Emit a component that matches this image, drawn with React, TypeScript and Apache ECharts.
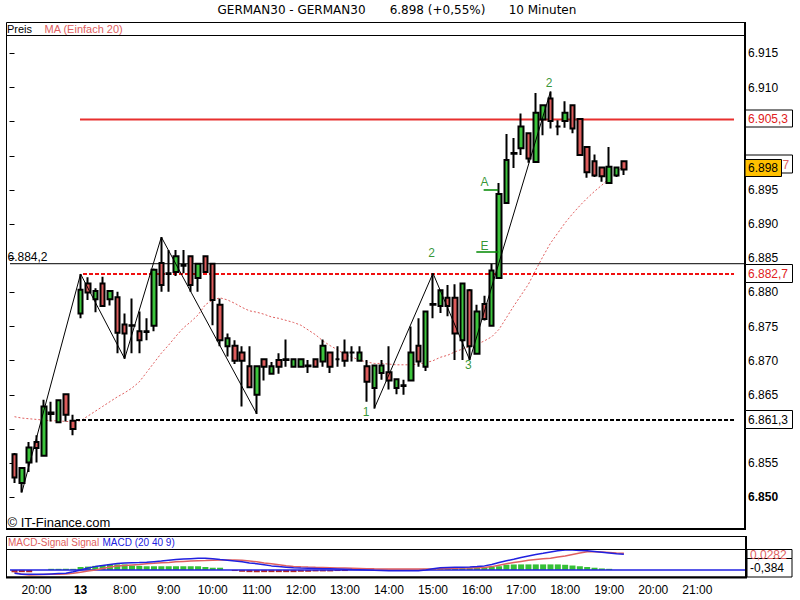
import React, { useEffect, useRef } from "react";
import * as echarts from "echarts";

const F = "'Liberation Sans', Arial, sans-serif";
const FT = "'DejaVu Sans', sans-serif";

// 10-minute candles (slot index 0 = first candle on the left)
const opens = [6856.3,6852.1,6855.1,6858.1,6856.1,6862.4,6861.0,6865.1,6861.2,6876.9,
6881.3,6879.0,6881.3,6879.0,6879.3,6875.3,6875.1,6874.3,6874.2,6875.1,
6884.3,6882.8,6883.0,6884.0,6885.3,6882.1,6885.3,6884.2,6878.2,6872.1,
6872.2,6871.2,6869.2,6865.0,6870.2,6868.1,6870.1,6870.2,6869.1,6869.1,
6869.2,6870.2,6869.9,6871.2,6870.2,6871.2,6871.2,6870.0,6869.2,6866.0,
6868.2,6868.3,6866.0,6866.3,6867.1,6872.2,6869.1,6878.2,6878.0,6879.2,
6879.2,6873.0,6880.3,6871.0,6878.3,6875.1,6882.1,6893.1,6900.3,6901.1,
6903.3,6899.1,6905.3,6908.4,6904.3,6905.1,6907.4,6905.4,6901.3,6899.2,
6898.3,6896.0,6897.1,6899.2];
const closes = [6852.9,6854.3,6857.3,6857.2,6863.3,6862.2,6864.2,6862.1,6860.0,6880.4,
6880.0,6880.2,6878.0,6880.2,6874.1,6874.0,6875.2,6873.0,6874.3,6883.3,
6881.1,6882.7,6885.3,6883.9,6881.1,6884.2,6883.0,6878.9,6873.0,6873.3,
6870.0,6870.0,6866.1,6869.2,6869.1,6869.2,6869.1,6870.1,6870.2,6870.2,
6869.3,6869.1,6872.2,6869.1,6870.2,6870.0,6871.2,6871.2,6866.9,6869.3,
6869.3,6867.1,6867.3,6866.4,6871.2,6869.9,6877.2,6878.3,6880.3,6878.0,
6874.0,6881.3,6872.1,6877.2,6876.1,6883.2,6894.4,6899.4,6900.4,6904.3,
6899.6,6906.3,6907.4,6905.1,6904.3,6906.3,6904.0,6900.1,6897.6,6897.1,
6897.0,6898.4,6898.3,6898.0];
const lows = [6852.1,6850.7,6853.7,6855.1,6856.0,6861.1,6860.9,6861.1,6859.1,6876.2,
6878.9,6877.1,6878.0,6878.1,6871.1,6870.3,6871.1,6871.1,6873.0,6874.3,
6880.1,6880.1,6882.4,6882.8,6880.1,6880.1,6882.9,6875.2,6872.1,6870.6,
6869.5,6863.3,6866.0,6862.2,6867.1,6868.0,6868.1,6869.1,6869.1,6869.1,
6868.2,6869.1,6869.1,6868.2,6869.1,6869.1,6869.9,6870.0,6864.0,6863.0,
6867.2,6865.8,6865.1,6865.0,6867.0,6869.1,6868.5,6876.2,6877.0,6876.5,
6870.1,6870.1,6870.1,6870.9,6875.9,6875.0,6882.0,6893.0,6898.2,6900.1,
6899.0,6899.0,6903.0,6904.0,6903.0,6904.1,6903.3,6900.0,6896.8,6896.9,
6896.2,6896.0,6896.9,6897.2];
const highs = [6856.5,6854.4,6858.1,6859.1,6864.3,6864.0,6864.3,6865.2,6862.1,6882.7,
6882.2,6880.6,6882.3,6880.3,6880.1,6876.9,6879.1,6877.2,6876.2,6883.5,
6888.1,6886.2,6886.2,6886.2,6885.4,6884.3,6885.4,6884.3,6879.1,6874.0,
6873.0,6872.1,6872.1,6869.3,6870.3,6869.8,6871.1,6873.1,6870.3,6870.3,
6870.1,6870.3,6873.1,6871.3,6872.1,6873.1,6872.1,6872.1,6870.1,6869.4,
6870.1,6872.1,6867.4,6867.2,6875.0,6876.2,6877.3,6882.8,6880.4,6881.1,
6881.2,6881.4,6880.5,6878.2,6879.5,6884.2,6896.0,6903.2,6902.6,6906.2,
6903.4,6909.2,6907.5,6909.4,6905.2,6908.0,6907.5,6905.5,6901.4,6900.2,
6898.4,6901.3,6898.4,6899.3];

// MA (Einfach 20)
const maValues = [6861.8,6861.6,6861.5,6861.4,6861.3,6861.2,6861.2,6861.1,6861.1,6861.2,
6861.9,6862.6,6863.3,6864.0,6864.7,6865.3,6866.0,6866.9,6868.3,6869.7,
6871.1,6872.3,6873.6,6874.8,6875.7,6876.7,6878.2,6878.9,6879.2,6878.9,
6878.4,6877.8,6877.3,6877.1,6876.8,6876.4,6876.2,6875.9,6875.6,6875.2,
6874.5,6873.8,6872.9,6872.2,6871.6,6870.9,6870.5,6870.1,6869.8,6869.6,
6869.6,6869.5,6869.4,6869.4,6869.4,6869.5,6869.7,6870.0,6870.5,6870.8,
6871.3,6871.7,6872.1,6872.4,6872.9,6873.5,6874.6,6876.3,6878.0,6879.6,
6881.2,6883.3,6885.3,6887.2,6888.7,6890.2,6891.5,6892.7,6893.8,6894.8,
6895.7,6896.7,6897.6,6898.6];

// MACD (20 40 9)
const macdValues = [-0.9,-1.2,-1.2,-1.2,-1.2,-1.1,-1.0,-0.9,-0.5,0.0,
0.5,0.9,1.2,1.5,1.75,1.85,1.95,2.0,2.1,2.25,
2.4,2.6,2.8,2.95,3.05,3.15,3.15,3.05,2.8,2.6,
2.4,2.2,1.9,1.7,1.4,1.1,0.9,0.75,0.6,0.5,
0.45,0.4,0.35,0.3,0.25,0.2,0.1,0.05,0.0,-0.1,
-0.15,-0.2,-0.2,-0.2,-0.2,-0.2,0.0,0.3,0.6,0.65,
0.7,0.75,0.8,0.9,1.1,1.5,2.0,2.5,2.9,3.4,
3.8,4.2,4.5,4.85,5.2,5.4,5.4,5.3,5.2,5.0,
4.8,4.6,4.4,4.25];
const signalValues = [-0.6,-1.2,-1.35,-1.3,-1.25,-1.2,-1.15,-1.1,-0.9,-0.6,
-0.3,0.0,0.4,0.8,1.05,1.2,1.35,1.5,1.7,1.82,
1.95,2.05,2.2,2.3,2.4,2.5,2.55,2.62,2.68,2.71,
2.7,2.6,2.4,2.2,1.9,1.65,1.4,1.15,0.95,0.85,
0.78,0.72,0.67,0.62,0.55,0.5,0.45,0.4,0.35,0.3,
0.27,0.25,0.25,0.25,0.25,0.25,0.27,0.3,0.35,0.4,
0.45,0.5,0.55,0.6,0.65,0.9,1.3,1.7,2.0,2.3,
2.6,2.85,3.05,3.2,3.5,3.8,4.2,4.6,4.95,4.95,
4.85,4.75,4.6,4.5];
const histValues = [-0.6,-0.6,-0.6,0,0,0.3,0.3,0.3,0.3,0.8,
0.9,1.1,1.3,1.5,1.5,1.5,1.2,1.1,1.0,1.0,
1.0,1.0,1.0,1.0,1.0,1.0,0.8,0.6,0.6,0,
-0.3,-0.5,-0.6,-0.6,-0.6,-0.6,-0.6,-0.6,-0.6,-0.5,
-0.5,-0.4,-0.4,-0.4,-0.3,-0.3,0,0,0,0,
0,0,0,0,0,0,0.3,0.3,0.4,0.5,
0.5,0.5,0.5,0.6,0.7,0.8,1.0,1.4,1.5,1.5,
1.5,1.5,1.5,1.5,1.5,1.4,1.2,1.0,0.8,0.6,
0.4,0.3,0,0];

// axes
const slotCount = 100;
const yTicks = [6850,6855,6860,6865,6870,6875,6880,6885,6890,6895,6900,6905,6910,6915];
// labels at 6.860, 6.900 and 6.905 sit under the value boxes in the reference
const yLabels = [6850,6855,6865,6870,6875,6880,6885,6890,6895,6910,6915];
const xTickIdx = [3,9,15,21,27,33,39,45,51,57,63,69,75,81,87,93];
const xTickText = ["20:00","13","8:00","9:00","10:00","11:00","12:00","13:00","14:00","15:00","16:00","17:00","18:00","19:00","20:00","21:00"];

// drawn annotations (slot index, price)
const waveA = [[1,6850.7],[9,6882.7],[15,6870.3],[20,6888.1],[33,6862.2]];
const waveB = [[49,6863.0],[57,6882.8],[62,6870.1],[73,6909.4]];
const waveLabels = [
  { t: "1", i: 47.9, v: 6862.5 },
  { t: "2", i: 56.8, v: 6885.7 },
  { t: "3", i: 61.8, v: 6869.4 },
  { t: "2", i: 72.8, v: 6910.7 },
  { t: "A", i: 64.0, v: 6896.2 },
  { t: "E", i: 64.0, v: 6886.8 },
];
const markA = [[63.9,6895.0],[65.9,6895.0]];
const markE = [[62.9,6885.9],[65.9,6885.9]];
const levelRed = 6905.3;
const levelBlack = 6884.2;
const levelRedDash = 6882.7;
const levelBlackDash = 6861.3;

export default function App() {
  const ref = useRef<HTMLDivElement>(null);
  useEffect(() => {
    const chart = echarts.init(ref.current!, null, { renderer: "svg" });
    const cats = Array.from({ length: slotCount }, (_, i) => "s" + i);
    const candles = opens.map((o, i) => [o, closes[i], lows[i], highs[i]]);
    const lvl = (v: number, x0: number, x1: number, color: string, width: number, type: any) => ({
      type: "line", xAxisIndex: 1, yAxisIndex: 0, data: [[x0, v], [x1, v]], clip: false,
      symbol: "none", silent: true, z: 3,
      lineStyle: { color, width, type },
    });
    const txt = (text: string, x: number, y: number, fill: string, size = 12, extra: any = {}) => ({
      type: "text", z: 100, x, y,
      style: { text, fill, font: `${extra.weight || "normal"} ${size}px ${extra.family || F}`, textAlign: extra.align || "left", textVerticalAlign: "middle" },
    });
    const box = (x: number, y: number, w: number, h: number, fill = "#fff") => ({
      type: "rect", z: 99, shape: { x, y, width: w, height: h },
      style: { fill, stroke: "#000", lineWidth: 1 },
    });
    const line = (x1: number, y1: number, x2: number, y2: number, w = 1) => ({
      type: "line", z: 50, shape: { x1, y1, x2, y2 }, style: { stroke: "#000", lineWidth: w },
    });

    const option: any = {
      animation: false,
      backgroundColor: "#fff",
      grid: [
        { left: 10.83, width: 734.2, top: 19.2, height: 512.25 },
        { left: 10.83, width: 734.2, top: 549.3, height: 28 },
      ],
      xAxis: [
        { type: "category", gridIndex: 0, data: cats, show: false, boundaryGap: true },
        { type: "value", gridIndex: 0, min: -0.5, max: slotCount - 0.5, show: false },
        {
          type: "category", gridIndex: 1, data: cats, boundaryGap: true,
          axisLine: { show: false }, axisTick: { show: false }, splitLine: { show: false },
          axisLabel: {
            show: true, margin: 7, color: "#000", fontFamily: F, fontSize: 12,
            interval: (index: number) => xTickIdx.includes(index),
            formatter: (_v: string, index: number) => {
              const k = xTickIdx.indexOf(index);
              if (k < 0) return "";
              return xTickText[k] === "13" ? "{b|13}" : xTickText[k];
            },
            rich: { b: { fontWeight: "bold", fontFamily: F, fontSize: 12, color: "#000" } },
          },
        },
        { type: "value", gridIndex: 1, min: -0.5, max: slotCount - 0.5, show: false },
      ],
      yAxis: [
        {
          type: "value", gridIndex: 0, min: 6845, max: 6920, interval: 5, position: "right",
          axisLine: { show: false }, splitLine: { show: false },
          axisTick: { show: true, inside: true, length: 5, lineStyle: { color: "#000", width: 1 }, customValues: yTicks },
          axisLabel: {
            show: true, margin: 3, color: "#000", fontFamily: F, fontSize: 12, customValues: yLabels,
            formatter: (v: number) => {
              if (!yLabels.includes(Math.round(v))) return "";
              const s = (v / 1000).toFixed(3);
              return Math.round(v) === 6850 ? "{b|" + s + "}" : s;
            },
            rich: { b: { fontWeight: "bold", fontFamily: F, fontSize: 12, color: "#000" } },
          },
        },
        { type: "value", gridIndex: 1, min: -2, max: 5.6, show: false },
      ],
      series: [
        {
          type: "line", xAxisIndex: 0, yAxisIndex: 0, data: maValues, symbol: "none", z: 1,
          lineStyle: { color: "#e06060", width: 1, type: [2, 2] },
        },
        lvl(levelBlack, -1.18, slotCount - 0.5, "#000", 1, "solid"),
        lvl(levelRed, 8.92, 98.0, "#e8302e", 2, "solid"),
        lvl(levelRedDash, 9.33, 98.0, "#f01010", 2, [4, 2]),
        lvl(levelBlackDash, 8.38, 98.0, "#000", 2, [4, 2]),
        {
          type: "candlestick", xAxisIndex: 0, yAxisIndex: 0, data: candles, barWidth: 5, z: 4,
          itemStyle: {
            color: "#3cc43c", color0: "#dd5c5c", borderColor: "#000", borderColor0: "#000",
            borderColorDoji: "#000", borderWidth: 2,
          },
        },
        {
          type: "line", xAxisIndex: 1, yAxisIndex: 0, data: waveA, symbol: "none", z: 5,
          lineStyle: { color: "#000", width: 1 },
        },
        {
          type: "line", xAxisIndex: 1, yAxisIndex: 0, data: waveB, symbol: "none", z: 5,
          lineStyle: { color: "#000", width: 1 },
        },
        {
          type: "line", xAxisIndex: 1, yAxisIndex: 0, data: markA, symbol: "none", z: 5,
          lineStyle: { color: "#008800", width: 1.5 },
        },
        {
          type: "line", xAxisIndex: 1, yAxisIndex: 0, data: markE, symbol: "none", z: 5,
          lineStyle: { color: "#008800", width: 1.5 },
        },
        {
          type: "scatter", xAxisIndex: 1, yAxisIndex: 0, symbolSize: 1, z: 6,
          itemStyle: { color: "rgba(0,0,0,0)" },
          data: waveLabels.map((w) => ({ name: w.t, value: [w.i, w.v] })),
          label: {
            show: true, position: "inside", formatter: (p: any) => p.name,
            color: "#007a00", fontFamily: F, fontSize: 12,
          },
        },
        {
          type: "bar", xAxisIndex: 2, yAxisIndex: 1, data: histValues, barWidth: 6, z: 2,
          itemStyle: { color: (p: any) => (p.value >= 0 ? "#36c036" : "#b02525") },
        },
        {
          type: "line", xAxisIndex: 3, yAxisIndex: 1, data: [[-1.18, 0], [slotCount - 0.5, 0]],
          clip: false, symbol: "none", z: 3, lineStyle: { color: "#2020e0", width: 1.5 },
        },
        {
          type: "line", xAxisIndex: 2, yAxisIndex: 1, data: signalValues, symbol: "none", z: 4,
          lineStyle: { color: "#e06060", width: 1.5 },
        },
        {
          type: "line", xAxisIndex: 2, yAxisIndex: 1, data: macdValues, symbol: "none", z: 5,
          lineStyle: { color: "#2020e0", width: 1.5 },
        },
      ],
      graphic: [
        // title
        txt("GERMAN30 - GERMAN30", 291.5, 10, "#000", 12, { align: "center", family: FT }),
        txt("6.898 (+0,55%)", 437.5, 10, "#000", 12, { align: "center", family: FT }),
        txt("10 Minuten", 542.5, 10, "#000", 12, { align: "center", family: FT }),
        // main frame
        { type: "rect", z: 50, shape: { x: 6.5, y: 22.5, width: 738.5, height: 506 }, style: { fill: "none", stroke: "#000", lineWidth: 1 } },
        line(6, 35.5, 745, 35.5),
        line(745, 22, 745, 530, 2),
        line(6, 529, 746, 529, 2),
        txt("Preis", 7, 29, "#000", 11),
        txt("MA (Einfach 20)", 44.5, 29, "#e06060", 11),
        txt("6.884,2", 7.5, 256.5, "#000", 12),
        txt("© IT-Finance.com", 7.5, 522.5, "#000", 13),
        // MACD frame
        { type: "rect", z: 50, shape: { x: 6.5, y: 536.5, width: 739.5, height: 40.5 }, style: { fill: "none", stroke: "#000", lineWidth: 1 } },
        line(6, 549.5, 746, 549.5),
        line(746, 536, 746, 578, 2),
        line(6, 577.5, 747, 577.5, 2),
        txt("MACD-Signal Signal", 8, 542.5, "#e06060", 10),
        txt("MACD (20 40 9)", 102.5, 542.5, "#2020e0", 10),
        // right value boxes
        box(745.5, 110, 47, 17), txt("6.905,3", 748, 118.5, "#e02020", 12),
        box(745.5, 155, 47, 18), txt("7", 782.5, 164.5, "#e06060", 12),
        box(745, 159.5, 36.5, 17, "#ffc000"), txt("6.898", 748, 168.2, "#000", 12),
        box(745.5, 264.5, 47, 18), txt("6.882,7", 748, 273.5, "#e02020", 12),
        box(745.5, 410.5, 47, 18), txt("6.861,3", 748, 419.5, "#000", 12),
        box(747, 549.5, 45, 9), txt("0,0282", 750, 555, "#e06060", 12),
        box(747, 558.5, 45, 18.5), txt("-0,384", 750, 567.8, "#000", 12),
      ],
    };
    chart.setOption(option);
    return () => chart.dispose();
  }, []);
  return <div ref={ref} style={{ position: "fixed", left: 0, top: 0, width: 800, height: 600 }} />;
}
